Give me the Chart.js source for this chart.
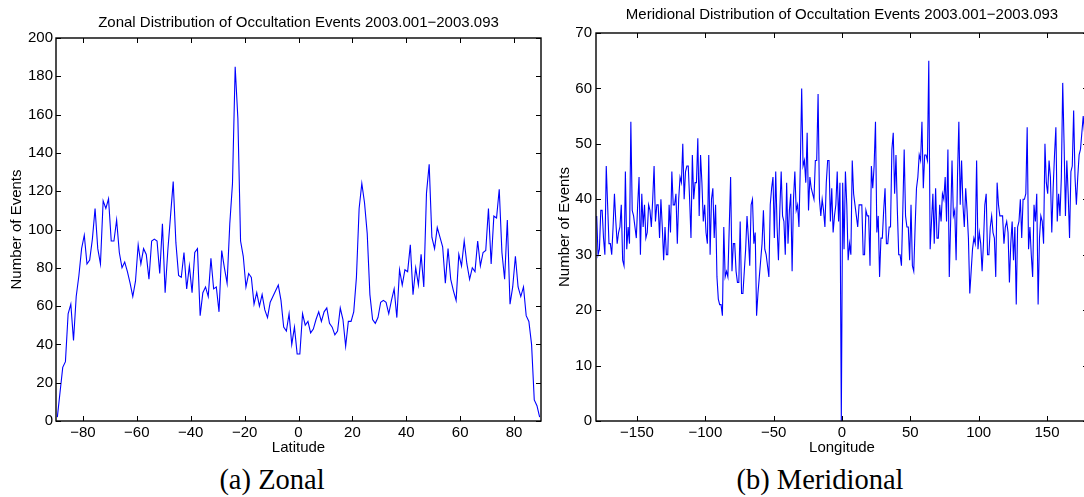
<!DOCTYPE html>
<html>
<head>
<meta charset="utf-8">
<script src="https://cdn.jsdelivr.net/npm/chart.js@4.4.1/dist/chart.umd.min.js"></script>
<style>
  html, body { margin: 0; padding: 0; background: #fff; overflow: hidden; }
  #page { position: relative; width: 1084px; height: 497px; overflow: hidden; background: #fff; }
  #zonal { position: absolute; left: 0; top: 0; }
  #meridional { position: absolute; left: 548px; top: 0; }
  .caption {
    position: absolute; top: 464px; line-height: 32px; white-space: nowrap;
    font-family: "Liberation Serif", "Times New Roman", serif; font-size: 28.5px; color: #000;
    transform: translateX(-50%);
  }
</style>
</head>
<body>
<div id="page">
  <canvas id="zonal" width="548" height="457"></canvas>
  <canvas id="meridional" width="560" height="457"></canvas>
  <div class="caption" style="left:272px">(a) Zonal</div>
  <div class="caption" style="left:820px">(b) Meridional</div>
</div>
<script>
// Zonal distribution: counts per 1-degree latitude bin, centres -89.5 .. 89.5
const latFirst = -89.5;
const zonalCounts = [
    2, 15, 28, 31, 56, 61, 42, 65, 76, 90,
    97, 82, 84, 95, 111, 90, 82, 115, 111, 116,
    94, 94, 105, 88, 80, 83, 78, 72, 65, 73,
    92, 82, 90, 87, 74, 94, 95, 94, 77, 103,
    67, 89, 107, 125, 93, 76, 75, 88, 69, 81,
    67, 88, 90, 55, 67, 70, 65, 85, 69,
    70, 57, 89, 80, 72, 103, 124, 185, 158, 94,
    86, 70, 77, 75, 61, 67, 60, 66, 58, 54,
    62, 65, 68, 71, 63, 49, 47, 56, 40, 49,
    35, 35, 56, 50, 52, 46, 48, 53, 57, 52,
    57, 59, 51, 49, 45, 47, 59, 53, 39, 52,
    52, 57, 75, 111, 124, 114, 98, 66, 53, 51,
    54, 62, 63, 62, 56, 63, 69, 54, 79, 71,
    79, 78, 92, 66, 80, 71, 87, 70, 119, 134,
    96, 90, 101, 96, 91, 72, 90, 74, 68, 63,
    87, 81, 94, 82, 74, 80, 78, 94, 81, 88,
    89, 111, 82, 107, 106, 121, 88, 74, 105, 61,
    70, 86, 70, 65, 70, 55, 52, 40, 11, 8,
    2
];
const latTicks = [-80, -60, -40, -20, 0, 20, 40, 60, 80];
const zonalTicks = [0, 20, 40, 60, 80, 100, 120, 140, 160, 180, 200];

// Meridional distribution: counts per 1-degree longitude bin, centres -179.5 .. 179.5
const lonFirst = -179.5;
const meridionalCounts = [
    37, 30, 31, 38, 38, 33, 30, 46, 39, 32,
    32, 30, 35, 41, 36, 32, 34, 35, 39, 29,
    28, 45, 31, 35, 32, 54, 38, 37, 35, 33,
    39, 44, 30, 41, 35, 39, 33, 34, 39, 38,
    35, 40, 46, 36, 39, 39, 33, 40, 35, 29,
    35, 30, 30, 39, 34, 45, 39, 39, 41, 32,
    40, 44, 43, 50, 40, 45, 46, 46, 40, 33,
    48, 40, 43, 43, 51, 37, 48, 43, 36,
    39, 34, 32, 48, 30, 40, 42, 33,
    39, 26, 22, 21, 21, 19, 35, 26, 27, 26,
    35, 44, 27, 32, 32, 27, 25, 25, 36, 23,
    23, 27, 31, 37, 33, 28, 39, 40, 32, 34,
    19, 23, 26, 29, 32, 38, 31, 30, 28, 26,
    39, 42, 44, 33, 45, 35, 29, 38, 45, 37,
    36, 30, 43, 32, 38, 41, 27, 40, 45, 38,
    39, 35, 46, 60, 46, 47, 43, 52, 38, 44,
    42, 41, 40, 47, 47, 59, 40, 37, 40, 38,
    35, 43, 47, 47, 36, 42, 34, 37, 39, 45,
    36, 43,
    0,
    43, 31, 45, 39, 29, 32, 30, 47, 41, 39,
    37, 35, 39, 39, 39, 30, 30, 38, 37, 37,
    28, 46, 42, 46, 54, 34, 37, 26, 33, 33,
    38, 42, 32, 32, 35, 35, 49, 52, 41, 48,
    38, 30, 30, 28, 38, 49, 37, 35, 35, 29,
    39, 28, 27, 35, 42, 44, 48, 47, 54, 42,
    48, 48, 47, 65, 31, 36, 41, 32, 42, 33,
    33, 39, 36, 41, 40, 44, 36, 49, 26, 36,
    47, 37, 38, 29, 44, 54, 39, 47, 39, 35,
    42, 38, 33, 23, 27, 31, 33, 32, 47, 31,
    34, 32, 27, 32, 39, 41, 30, 30, 35, 37,
    34, 33, 26, 43, 39, 37, 37, 37, 32, 35,
    36, 34, 25, 32, 36, 29, 35, 21, 35, 36,
    40, 33, 40, 40, 41, 53, 31, 35, 30, 26,
    39, 36, 41, 21, 33, 37, 36, 32, 50, 43,
    41, 47, 44, 34, 42, 48, 53, 36, 41, 37,
    44, 61, 50, 37, 47, 41, 33, 45, 46, 56,
    44, 39, 44, 48, 49, 52, 55, 52, 48, 45
];
const lonTicks = [-150, -100, -50, 0, 50, 100, 150];
const meridionalTicks = [0, 10, 20, 30, 40, 50, 60, 70];

const FONT = '"Liberation Sans", Arial, Helvetica, sans-serif';
const withMinus = (v) => String(v).replace('-', '\u2212');

// MATLAB style box with inward tick marks on all four sides
const boxTicks = {
    id: 'boxTicks',
    afterDatasetsDraw: (chart) => {
        const { ctx, chartArea: a, scales: { x, y } } = chart;
        const len = 5;
        ctx.save();
        ctx.strokeStyle = '#000';
        ctx.lineWidth = 1;
        ctx.beginPath();
        x.ticks.forEach(t => {
            const px = Math.round(x.getPixelForValue(t.value)) + 0.5;
            ctx.moveTo(px, a.bottom); ctx.lineTo(px, a.bottom - len);
            ctx.moveTo(px, a.top); ctx.lineTo(px, a.top + len);
        });
        y.ticks.forEach(t => {
            const py = Math.round(y.getPixelForValue(t.value)) + 0.5;
            ctx.moveTo(a.left, py); ctx.lineTo(a.left + len, py);
            ctx.moveTo(a.right, py); ctx.lineTo(a.right - len, py);
        });
        ctx.stroke();
        ctx.lineWidth = 1.4;
        ctx.strokeRect(a.left, a.top, a.right - a.left, a.bottom - a.top);
        ctx.restore();
    }
};

const makeChart = (canvas, cfg) => {
    const points = cfg.counts.map((c, i) => ({ x: cfg.first + i, y: c }));
    return new Chart(canvas, {
        type: 'line',
        data: {
            datasets: [{
                data: points,
                borderColor: '#0000ff',
                borderWidth: 1.1,
                pointRadius: 0,
                tension: 0,
                fill: false
            }]
        },
        options: {
            responsive: false,
            animation: false,
            events: [],
            layout: { padding: { left: 0, right: cfg.padRight, top: 0, bottom: 0 } },
            plugins: {
                legend: { display: false },
                tooltip: { enabled: false },
                title: {
                    display: true,
                    text: cfg.title,
                    fullSize: false,
                    color: '#000',
                    font: { family: FONT, size: 15, weight: 'normal' },
                    padding: { top: cfg.titleTop, bottom: cfg.titleBottom }
                }
            },
            scales: {
                x: {
                    type: 'linear',
                    min: cfg.xMin,
                    max: cfg.xMax,
                    afterBuildTicks: (s) => { s.ticks = cfg.xTicks.map(v => ({ value: v })); },
                    afterFit: (s) => { s.height = 36; },
                    grid: { display: false, drawTicks: false },
                    border: { display: false },
                    ticks: {
                        color: '#000',
                        font: { family: FONT, size: 15 },
                        padding: 3,
                        maxRotation: 0,
                        autoSkip: false,
                        callback: withMinus
                    },
                    title: {
                        display: true,
                        text: cfg.xLabel,
                        color: '#000',
                        font: { family: FONT, size: 15 },
                        padding: { top: 0, bottom: 0 }
                    }
                },
                y: {
                    type: 'linear',
                    min: cfg.yMin,
                    max: cfg.yMax,
                    afterBuildTicks: (s) => { s.ticks = cfg.yTicks.map(v => ({ value: v })); },
                    afterFit: (s) => { s.width = cfg.yWidth; },
                    grid: { display: false, drawTicks: false },
                    border: { display: false },
                    ticks: {
                        color: '#000',
                        font: { family: FONT, size: 15 },
                        padding: cfg.yPad,
                        autoSkip: false
                    },
                    title: {
                        display: true,
                        text: 'Number of Events',
                        color: '#000',
                        font: { family: FONT, size: 15 },
                        padding: { top: cfg.yTitlePad, bottom: 0 }
                    }
                }
            }
        },
        plugins: [boxTicks]
    });
};

makeChart(document.getElementById('zonal'), {
    counts: zonalCounts,
    first: latFirst,
    xMin: -90, xMax: 90,
    xTicks: latTicks,
    yMin: 0, yMax: 200,
    yTicks: zonalTicks,
    xLabel: 'Latitude',
    title: 'Zonal Distribution of Occultation Events 2003.001\u22122003.093',
    titleTop: 14, titleBottom: 6,
    yWidth: 56, yPad: 3, yTitlePad: 8,
    padRight: 7
});

makeChart(document.getElementById('meridional'), {
    counts: meridionalCounts,
    first: lonFirst,
    xMin: -180, xMax: 180,
    xTicks: lonTicks,
    yMin: 0, yMax: 70,
    yTicks: meridionalTicks,
    xLabel: 'Longitude',
    title: 'Meridional Distribution of Occultation Events 2003.001\u22122003.093',
    titleTop: 6, titleBottom: 9,
    yWidth: 48, yPad: 4, yTitlePad: 8,
    padRight: 20
});
</script>
</body>
</html>
